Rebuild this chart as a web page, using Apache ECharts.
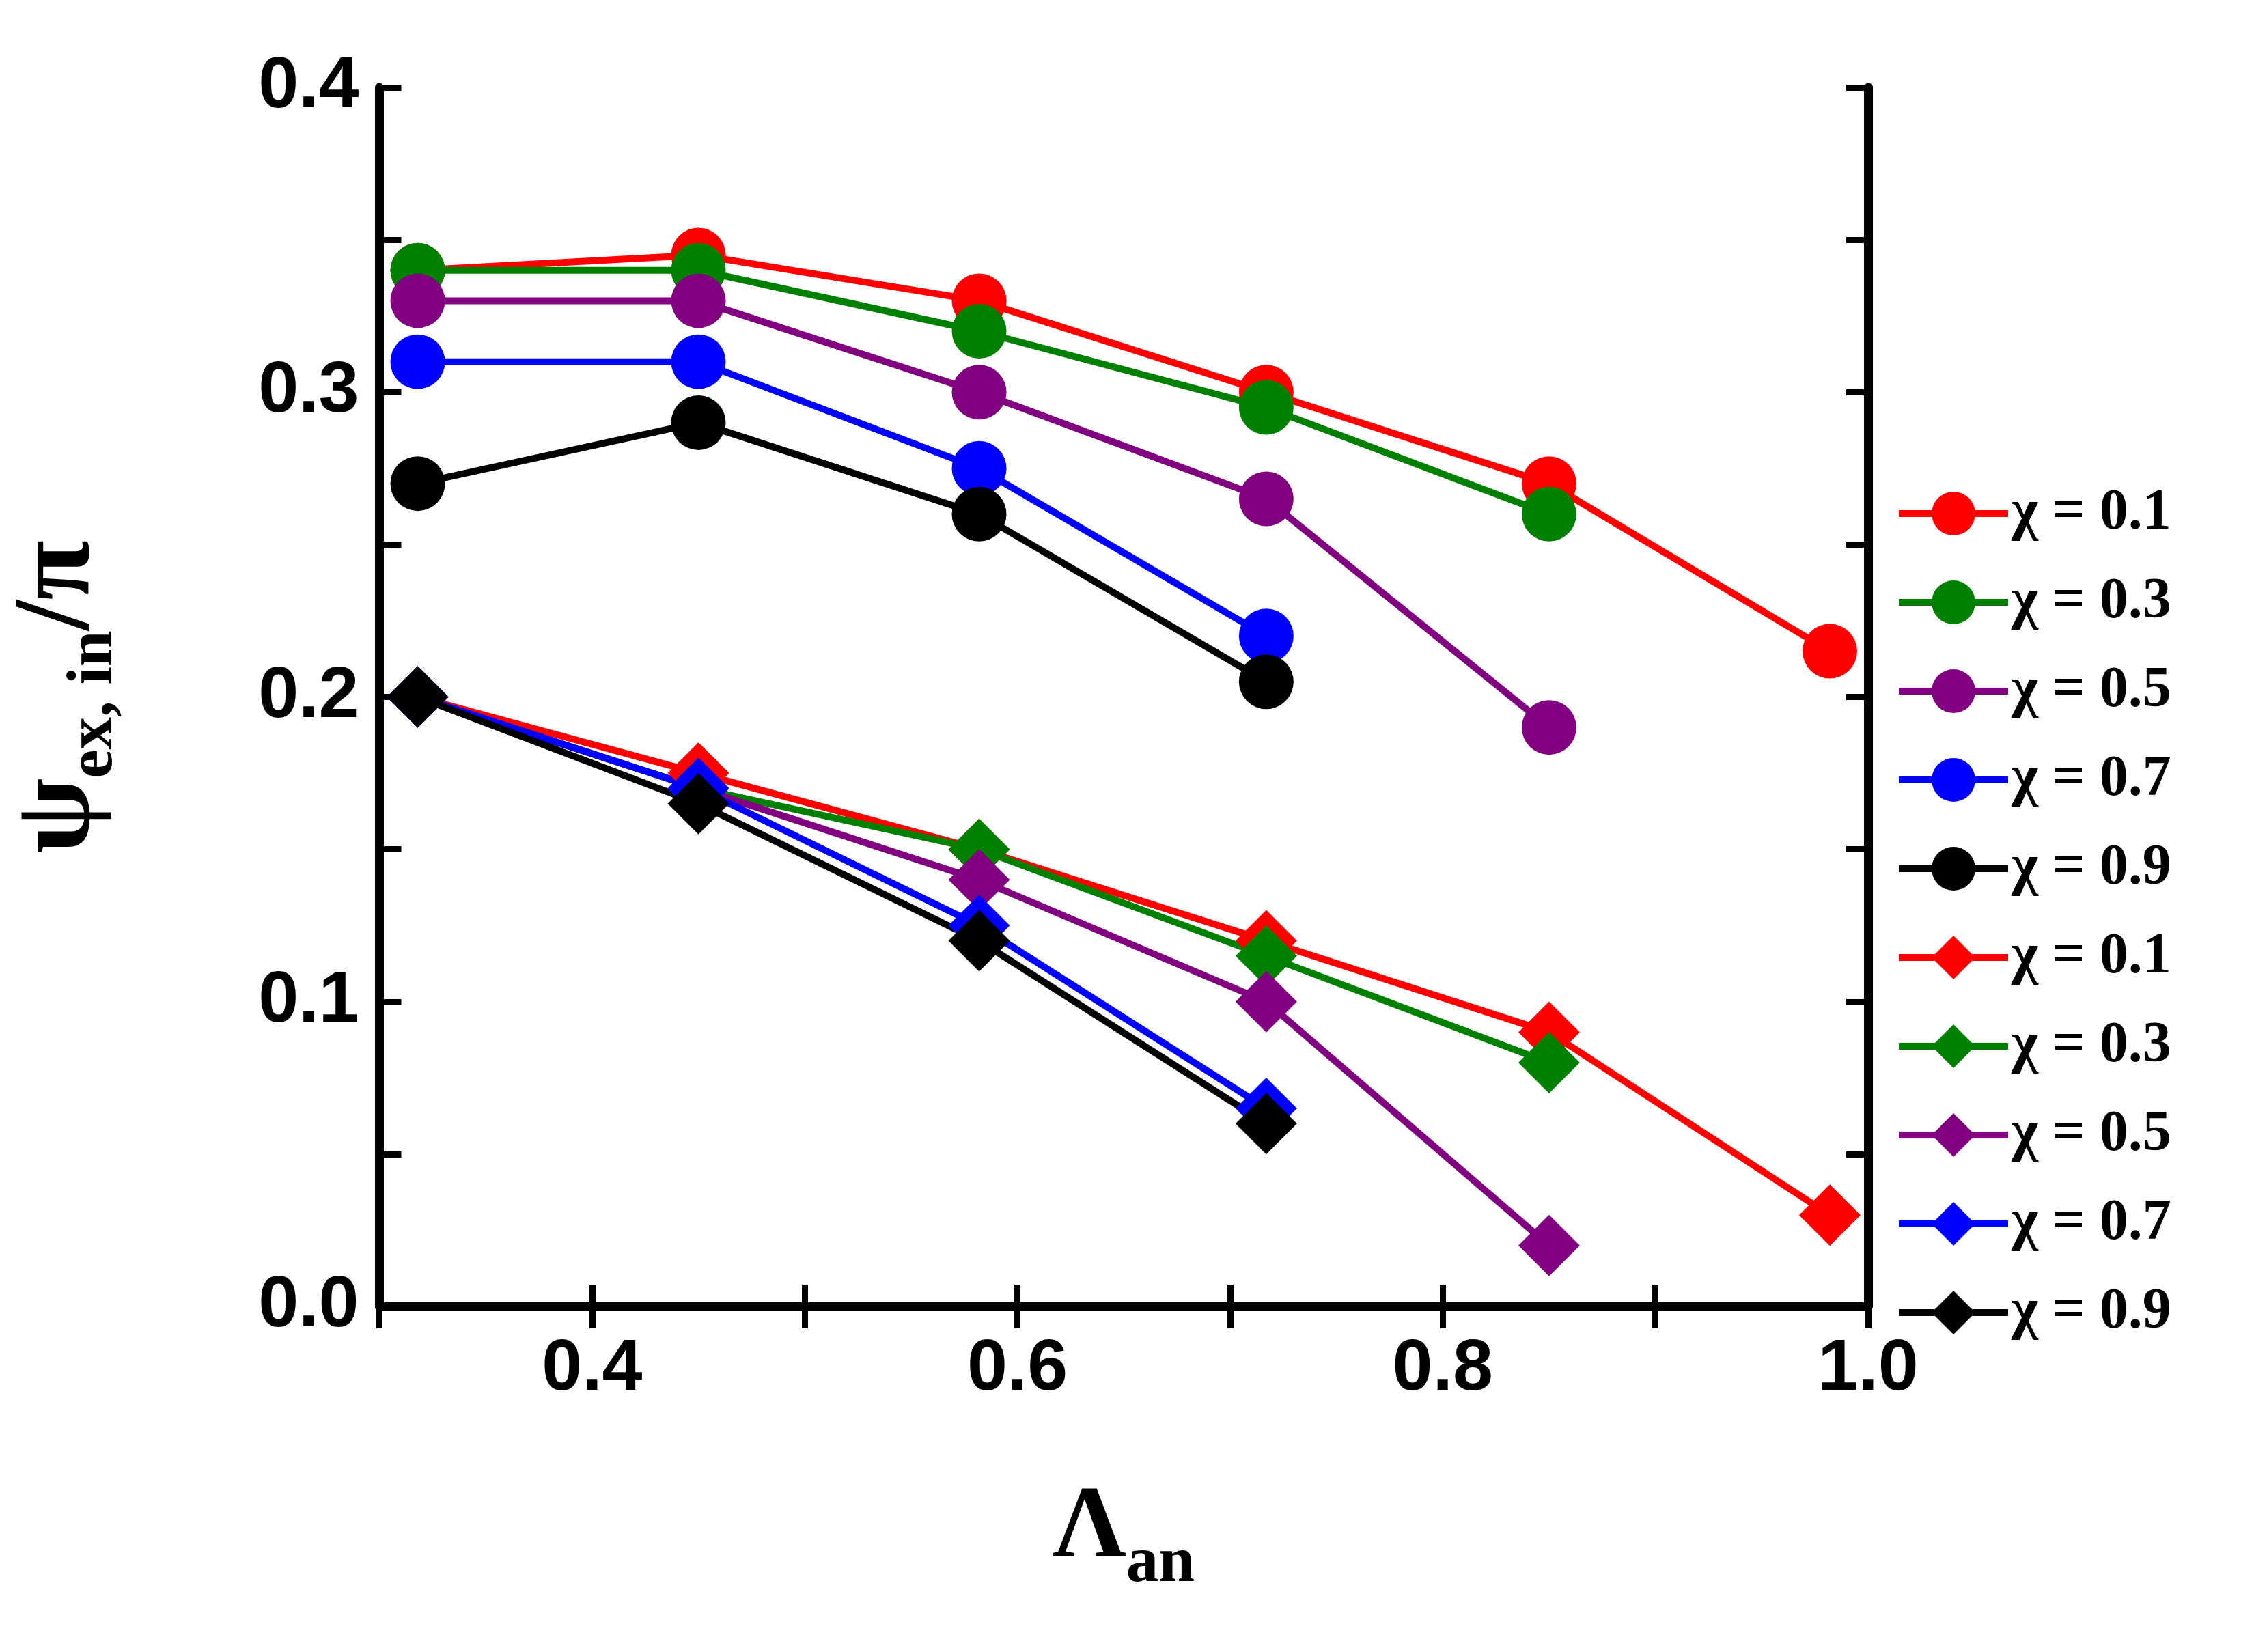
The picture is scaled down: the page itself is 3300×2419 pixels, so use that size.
<!DOCTYPE html>
<html lang="en">
<head>
    <meta charset="utf-8">
    <title>psi vs Lambda</title>
    <script src="https://cdn.jsdelivr.net/npm/echarts@6/dist/echarts.min.js"></script>
</head>
<body style="margin:0">
<div id="main" style="width: 3300px;height:2419px;"></div>
<script>
    let xs = [0.318, 0.45, 0.582, 0.717, 0.85, 0.982];
    let chiNames = ['χ = 0.1', 'χ = 0.3', 'χ = 0.5', 'χ = 0.7', 'χ = 0.9'];
    let colors = ['#ff0000', '#008000', '#800080', '#0000ff', '#000000'];
    let circleVals = [
        [0.34, 0.345, 0.33, 0.30, 0.27, 0.215],
        [0.34, 0.34, 0.32, 0.295, 0.26],
        [0.33, 0.33, 0.30, 0.265, 0.19],
        [0.31, 0.31, 0.275, 0.22],
        [0.27, 0.29, 0.26, 0.205]
    ];
    let diamondVals = [
        [0.2, 0.175, 0.15, 0.12, 0.09, 0.03],
        [0.2, 0.17, 0.15, 0.115, 0.08],
        [0.2, 0.17, 0.14, 0.10, 0.02],
        [0.2, 0.17, 0.125, 0.065],
        [0.2, 0.165, 0.12, 0.06]
    ];

    let series = [];
    function addSeries(vals, symbol, size, suffix) {
        for (let i = 0; i < vals.length; i++) {
            series.push({
                name: chiNames[i] + suffix,
                type: 'line',
                data: vals[i].map((v, j) => [xs[j], v]),
                symbol: symbol,
                symbolSize: size,
                lineStyle: {color: colors[i], width: 10},
                itemStyle: {color: colors[i]}
            });
        }
    }
    addSeries(circleVals, 'circle', 80, '');
    addSeries(diamondVals, 'diamond', 90, ' ');

    let axisLine = {lineStyle: {color: '#000', width: 13}};
    let tick = {inside: true, length: 32, lineStyle: {width: 9, color: '#000'}};
    let lab = {fontSize: 106, fontWeight: 'bold', fontFamily: 'Liberation Sans', color: '#000'};

    let myChart = echarts.init(document.getElementById('main'));
    let option = {
        animation: false,
        backgroundColor: '#fff',
        grid: {left: 528, right: 565, top: 128, bottom: 506},
        legend: {
            orient: 'vertical',
            left: 2770,
            top: 705,
            itemWidth: 160,
            itemHeight: 80,
            itemGap: 46,
            lineStyle: {width: 10},
            data: series.map(s => s.name),
            formatter: n => n.trim(),
            textStyle: {fontSize: 84, fontWeight: 'bold', fontFamily: 'Liberation Serif', color: '#000'}
        },
        xAxis: [{
            type: 'value', min: 0.3, max: 1.0, interval: 0.1,
            axisLine: axisLine, axisTick: tick, splitLine: {show: false},
            axisLabel: Object.assign({margin: 40, formatter: v => Math.round(v * 10) % 2 === 0 ? v.toFixed(1) : ''}, lab),
            name: '{a|Λ}{s|an}', nameLocation: 'middle', nameGap: 230,
            nameTextStyle: {rich: {
                a: {fontSize: 150, fontWeight: 'bold', fontFamily: 'Liberation Serif', color: '#000'},
                s: {fontSize: 95, fontWeight: 'bold', fontFamily: 'Liberation Serif', color: '#000', padding: [100, 0, 0, 0]}
            }}
        }, {
            type: 'value', min: 0.3, max: 1.0, interval: 0.1, position: 'top',
            axisLine: axisLine, axisTick: tick, axisLabel: {show: false}, splitLine: {show: false}
        }],
        yAxis: [{
            type: 'value', min: 0, max: 0.4, interval: 0.05,
            axisLine: axisLine, axisTick: tick, splitLine: {show: false},
            axisLabel: Object.assign({margin: 30, formatter: v => Math.round(v * 100) % 10 === 0 ? v.toFixed(1) : ''}, lab),
            name: '{a|ψ}{s|ex, in}{a|/π}', nameLocation: 'middle', nameGap: 370, nameRotate: 90,
            nameTextStyle: {rich: {
                a: {fontSize: 160, fontWeight: 'bold', fontFamily: 'Liberation Serif', color: '#000'},
                s: {fontSize: 95, fontWeight: 'bold', fontFamily: 'Liberation Serif', color: '#000', padding: [100, 0, 0, 0]}
            }}
        }, {
            type: 'value', min: 0, max: 0.4, interval: 0.05, position: 'right',
            axisLine: axisLine, axisTick: tick, axisLabel: {show: false}, splitLine: {show: false}
        }],
        series: series
    };
    myChart.setOption(option);
</script>
</body>
</html>
